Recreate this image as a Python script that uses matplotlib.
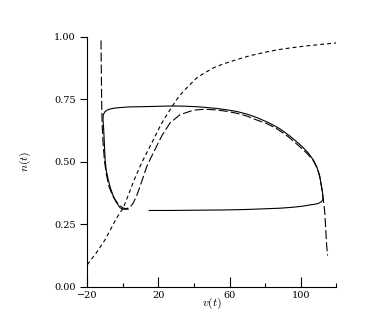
import numpy as np
import matplotlib
matplotlib.use('Agg')
import matplotlib.pyplot as plt
from matplotlib.ticker import FixedLocator

# limit cycle (solid), lower branch first, then the rest of the loop
cycle_low_v = [14.8, 20.0, 26.5, 40.0, 56.4, 70.0, 77.0, 88.3, 95.7, 101.0, 105.1, 108.0, 109.8, 111.5, 112.6]
cycle_low_n = [0.305, 0.305, 0.305, 0.306, 0.307, 0.309, 0.311, 0.314, 0.318, 0.322, 0.327, 0.330, 0.333, 0.339, 0.350]
cycle_up_v = [112.6, 112.3, 111.6, 110.6, 109.0, 107.3, 104.0, 100.0, 94.0, 88.0, 82.0, 75.2, 70.0, 64.0, 58.0,
              52.7, 47.0, 41.5, 35.0, 28.3, 16.2, 3.0, -4.0, -7.2, -9.0, -10.1, -11.0, -11.2, -10.8, -10.4,
              -10.0, -9.4, -8.2, -7.0, -5.6, -4.0, -1.6, 0.2, 3.0]
cycle_up_n = [0.350, 0.375, 0.405, 0.445, 0.480, 0.505, 0.537, 0.566, 0.602, 0.633, 0.656, 0.677, 0.690, 0.701, 0.708,
              0.713, 0.717, 0.720, 0.722, 0.723, 0.721, 0.719, 0.715, 0.711, 0.706, 0.700, 0.688, 0.670, 0.630, 0.570,
              0.510, 0.467, 0.427, 0.395, 0.366, 0.341, 0.316, 0.310, 0.310]

# v-nullcline (long dashes)
vnull_v = [-12.3, -12.1, -11.9, -11.6, -11.1, -10.3, -9.3, -7.8, -5.5, -2.5, 0.0, 2.0, 4.0, 5.8, 7.8, 9.6, 11.5,
           13.4, 15.7, 18.0, 22.0, 26.5, 32.1, 39.6, 46.0, 52.7, 58.0, 63.9, 70.0, 75.2, 81.0, 86.4, 93.0, 99.5,
           104.0, 107.0, 109.5, 110.7, 111.7, 112.3, 113.0, 113.5, 114.0, 114.5, 115.1]
vnull_n = [0.985, 0.85, 0.72, 0.64, 0.57, 0.50, 0.45, 0.40, 0.36, 0.33, 0.315, 0.312, 0.318, 0.334, 0.365, 0.40, 0.44,
           0.48, 0.515, 0.548, 0.605, 0.655, 0.688, 0.706, 0.710, 0.707, 0.702, 0.694, 0.682, 0.667, 0.652, 0.633, 0.600, 0.560,
           0.530, 0.505, 0.47, 0.44, 0.40, 0.37, 0.33, 0.30, 0.24, 0.174, 0.125]

# n-nullcline (short dashes)
nnull_v = [-20.0, -19.4, -15.0, -10.1, -6.5, -3.5, 0.2, 3.5, 6.8, 10.5, 14.3, 18.0, 21.5, 26.5, 30.2, 33.9, 37.7,
           41.5, 45.2, 50.8, 56.4, 63.9, 71.4, 80.8, 87.3, 95.0, 103.0, 111.0, 120.0]
nnull_n = [0.088, 0.094, 0.135, 0.187, 0.235, 0.275, 0.315, 0.375, 0.435, 0.495, 0.548, 0.60, 0.65, 0.708, 0.748, 0.781, 0.808,
           0.835, 0.852, 0.875, 0.891, 0.908, 0.924, 0.939, 0.948, 0.956, 0.963, 0.969, 0.975]

plt.rcParams['font.family'] = 'DejaVu Serif'
plt.rcParams['mathtext.fontset'] = 'cm'
plt.rcParams['lines.scale_dashes'] = False

fig = plt.figure(figsize=(3.77, 3.31), dpi=100)
ax = fig.add_axes([0.2316, 0.1338, 0.6604, 0.7553])

ax.plot(cycle_low_v, cycle_low_n, color='black', lw=0.8)
ax.plot(cycle_up_v, cycle_up_n, color='black', lw=0.8)
ax.plot(vnull_v, vnull_n, color='black', lw=0.8, dashes=(6.5, 2.2))
ax.plot(nnull_v, nnull_n, color='black', lw=0.8, dashes=(2.8, 2.2))

ax.set_xlim(-20, 120)
ax.set_ylim(0, 1)
for s in ['top', 'right']:
    ax.spines[s].set_visible(False)
for s in ['left', 'bottom']:
    ax.spines[s].set_linewidth(0.8)

ax.xaxis.set_major_locator(FixedLocator([-20, 20, 60, 100]))
ax.xaxis.set_minor_locator(FixedLocator([0, 40, 80, 120]))
ax.set_yticks([0, 0.25, 0.5, 0.75, 1.0])
ax.set_yticklabels(['0.00', '0.25', '0.50', '0.75', '1.00'])
ax.tick_params(axis='x', which='major', direction='in', length=7.2, width=0.8, pad=3, labelsize=7)
ax.tick_params(axis='x', which='minor', direction='in', length=3.0, width=0.8)
ax.tick_params(axis='y', which='major', direction='out', length=5, width=0.8, pad=3.5, labelsize=7)

ax.set_xlabel('$v(t)$', fontsize=8.5)
ax.xaxis.set_label_coords(0.5, -0.035)
ax.set_ylabel('$n(t)$', fontsize=8.5, va='center')
ax.yaxis.set_label_coords(-0.25, 0.5)

fig.savefig('out.png', dpi=100)
